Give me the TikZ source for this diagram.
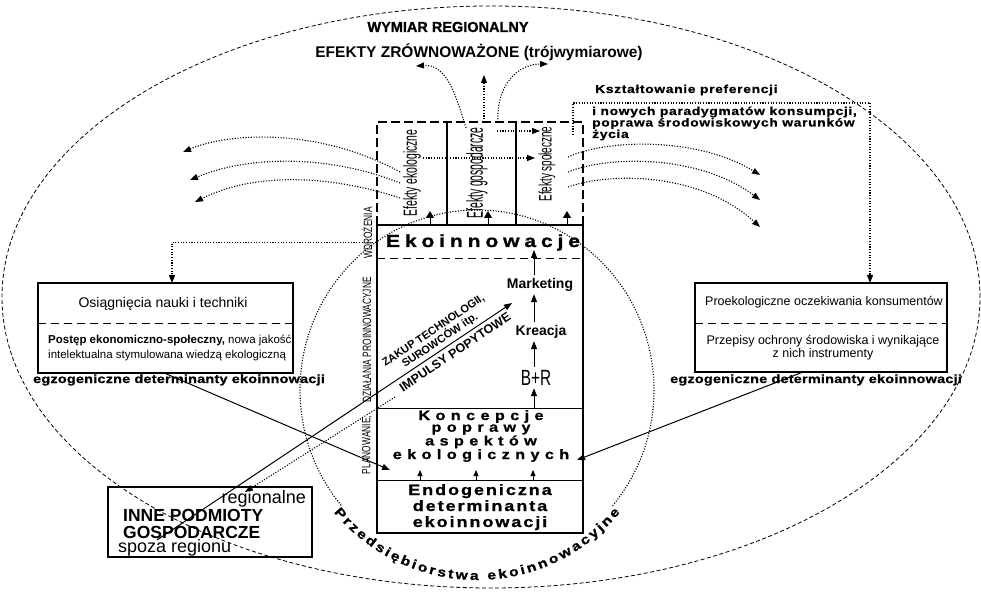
\documentclass[tikz,border=0pt]{standalone}
\usepackage{fontspec}
\setmainfont{Liberation Sans}
\newfontfamily\heavyfont[FakeStretch=1.2,FakeBold=1]{Liberation Sans Bold}
\newfontfamily\blackfont[FakeBold=1.2]{Liberation Sans Bold}
\newfontfamily\narrowfont[FakeStretch=0.7]{Liberation Sans}
\newfontfamily\condfont[FakeStretch=0.55]{Liberation Sans}
\newfontfamily\tallfont[FakeStretch=0.45]{Liberation Sans}
\usetikzlibrary{arrows.meta,calc,decorations.text}
\newcommand{\fs}[2]{\fontsize{#1}{#2}\selectfont}
\newcommand{\spaced}[1]{\addfontfeature{LetterSpace=#1}}
\newcommand{\ringfont}{\heavyfont\fs{13}{13}}

\begin{document}
\begin{tikzpicture}[x=1pt,y=-1pt,>={Triangle[length=8pt,width=6pt]},
    every node/.style={inner sep=0pt},
    stage/.style={inner sep=3pt},
    dotline/.style={line width=1.1pt,dash pattern=on 1.1pt off 1.6pt},
    thinbox/.style={draw,line width=1.1pt},
    heavy/.style={line width=1.8pt},
    arrowline/.style={line width=1pt,->}]
  \useasboundingbox (0,0) rectangle (981,593);

  % regional dimension and the enterprise ring
  \draw[line width=0.8pt,dash pattern=on 4pt off 2.5pt] (491,297) ellipse [x radius=489pt,y radius=291pt];
  \coordinate (ring) at (477,390);
  \draw[dotline] ($(ring)+(320:177pt and 180pt)$)
    arc[start angle=320,end angle=580,x radius=177pt,y radius=180pt];
  \path[decorate,decoration={text along path,text align=fit to path,raise=-10pt,
      text={|\ringfont|Przedsiębiorstwa ekoinnowacyjne}}]
    ($(ring)+(220:177pt and 180pt)$)
    arc[start angle=220,end angle=320,x radius=177pt,y radius=180pt];

  \node[anchor=base,font=\blackfont\fs{14.5}{15}] (region) at (448,32) {WYMIAR REGIONALNY};
  \node[anchor=base,font=\bfseries\fs{15.5}{16}] (sustain) at (479,58) {EFEKTY ZRÓWNOWAŻONE (trójwymiarowe)};

  % effects
  \draw[heavy,dash pattern=on 9pt off 4pt] (377,225) -- (377,122) -- (583,122) -- (583,225);
  \draw[heavy] (447,122) -- (447,225);
  \draw[heavy] (516,122) -- (516,225);
  \node[rotate=90,font=\condfont\fs{19}{19}] (effeco) at (412,173) {Efekty ekologiczne};
  \node[rotate=90,font=\tallfont\fs{23}{23}] (effeconomy) at (477,173) {Efekty gospodarcze};
  \node[rotate=90,font=\condfont\fs{18}{18}] (effsocial) at (547,164) {Efekty społeczne};

  % the enterprise
  \node[draw,heavy,minimum width=206,minimum height=308] (column) at (480,379) {};
  \draw[line width=1pt,dash pattern=on 8pt off 5pt] (377,259) -- (583,259);
  \draw[line width=0.8pt] (377,408) -- (583,408);
  \draw[line width=0.8pt] (377,480) -- (583,480);
  \node[anchor=base,font=\heavyfont\fs{17.5}{17.5}\spaced{28}] (eko) at (483,247) {Ekoinnowacje};
  \node[stage,anchor=base,font=\bfseries\fs{14}{14}] (market) at (540,288) {Marketing};
  \node[stage,anchor=base,font=\bfseries\fs{14}{14}] (create) at (541,335) {Kreacja};
  \node[stage,anchor=base,font=\narrowfont\fs{22}{22}] (rnd) at (536,385) {B+R};
  \node[anchor=base,align=center,font=\heavyfont\fs{13.5}{11.7}\spaced{40}] (concept) at (481,459)
    {Koncepcje\\poprawy\\aspektów\\ekologicznych};
  \node[anchor=base,align=center,font=\heavyfont\fs{15}{16}\spaced{13}] (endo) at (480,527)
    {Endogeniczna\\determinanta\\ekoinnowacji};
  \node[rotate=90,font=\narrowfont\fs{12}{12}] (plan) at (367,445) {PLANOWANIE,};
  \node[rotate=90,font=\narrowfont\fs{12}{12}] (actions) at (367,340) {DZIAŁANIA PROINNOWACYJNE};
  \node[rotate=90,font=\narrowfont\fs{12}{12}] (deploy) at (367,233) {WDROŻENIA};
  \node[rotate=34,align=center,font=\bfseries\fs{11}{12}] (purchase) at (437,336) {ZAKUP TECHNOLOGII,\\SUROWCÓW itp.};
  \node[rotate=34,font=\bfseries\fs{12.5}{13}] (impulse) at (455,352) {IMPULSY POPYTOWE};

  \coordinate (ekotip) at (534,250);
  \coordinate (rndin) at (534,408);
  \draw[arrowline] (market.north -| rndin) -- (ekotip);
  \draw[arrowline] (create.north -| rndin) -- (market.south -| rndin);
  \draw[arrowline] (rnd.north -| rndin) -- (create.south -| rndin);
  \draw[arrowline] (rndin) -- (rnd.south -| rndin);
  \foreach \x in {420,476,533}
    \draw[line width=1pt,-{Triangle[length=6pt,width=5pt]}] (\x,480) -- (\x,470);
  \foreach \x in {430,488,567}
    \draw[line width=1pt,-{Triangle[length=7pt,width=8pt]}] (\x,224) -- (\x,211);

  % exogenous determinants
  \node[thinbox,minimum width=255,minimum height=90] (science) at (165.5,328) {};
  \node[anchor=base,font=\fs{14}{14}] (sciencetitle) at (163,307) {Osiągnięcia nauki i techniki};
  \draw[line width=1pt,dash pattern=on 8pt off 5pt] (38,323) -- (293,323);
  \node[anchor=base west,align=left,font=\fs{11.5}{15}] (sciencetext) at (48,358)
    {\textbf{Postęp ekonomiczno-społeczny,} nowa jakość\\intelektualna stymulowana wiedzą ekologiczną};
  \node[anchor=base,font=\heavyfont\fs{12}{12}\spaced{2}] (exoleft) at (179,383) {egzogeniczne determinanty ekoinnowacji};

  \node[thinbox,minimum width=252,minimum height=89] (consumer) at (821,327.5) {};
  \node[anchor=base,font=\fs{12.5}{13}] (consumertitle) at (824,305) {Proekologiczne oczekiwania konsumentów};
  \draw[line width=1pt,dash pattern=on 8pt off 5pt] (695,323) -- (947,323);
  \node[anchor=base,align=center,font=\fs{12.5}{11.5}] (consumertext) at (823,357)
    {Przepisy ochrony środowiska i wynikające\\z nich instrumenty};
  \node[anchor=base,font=\heavyfont\fs{12}{12}\spaced{2}] (exoright) at (816,383) {egzogeniczne determinanty ekoinnowacji};

  \node[anchor=base west,font=\heavyfont\fs{11.5}{11.5}\spaced{6}] (shapingtitle) at (595,93) {Kształtowanie preferencji};
  \node[anchor=base west,align=left,font=\heavyfont\fs{11.5}{11.5}\spaced{6}] (shaping) at (592,138)
    {i nowych paradygmatów konsumpcji,\\poprawa środowiskowych warunków\\życia};

  % other firms
  \node[thinbox,minimum width=204,minimum height=70] (others) at (210,522) {};
  \node[anchor=base east,font=\fs{18}{18}] (othersreg) at (306,503) {regionalne};
  \node[anchor=base west,align=left,font=\bfseries\fs{17.5}{17}] (othersname) at (123,538) {INNE PODMIOTY\\GOSPODARCZE};
  \node[anchor=base west,font=\fs{18}{18}] (othersfar) at (118,552) {spoza regionu};

  % connectors
  \coordinate (sciencein) at (172,283);
  \draw[dotline,->] (column.west |- eko) -| (sciencein);
  \coordinate (socialout) at (573,135);
  \coordinate (consumerin) at (870,283);
  \draw[dotline,->] (socialout) -- ++(0,-32) -| (consumerin);

  \coordinate (buystart) at (157,540);
  \coordinate (buytip) at (512,303);
  \draw[arrowline] (buystart) -- (buytip);
  \coordinate (impulsestart) at (395,397);
  \coordinate (impulsetip) at (245,492);
  \draw[dotline,->] (impulsestart) -- (impulsetip);
  \coordinate (conceptleft) at (390,470);
  \coordinate (conceptright) at (577,460);
  \coordinate (consumerout) at (803,372);
  \draw[arrowline] (science.south) -- (conceptleft);
  \draw[arrowline] (consumerout) -- (conceptright);

  % effects spreading out
  \coordinate (ecoup) at (466,128);
  \coordinate (midup) at (484,122);
  \coordinate (socup) at (498,122);
  \coordinate (sustleft) at (416,66);
  \coordinate (sustmid) at (484,75);
  \coordinate (sustright) at (548,64);
  \draw[dotline,->] (ecoup) .. controls (455,92) and (446,64) .. (sustleft);
  \draw[dotline,->] (midup) -- (sustmid);
  \draw[dotline,->] (socup) .. controls (496,85) and (518,64) .. (sustright);

  \coordinate (gosA) at (497,131);
  \coordinate (spoA) at (540,131);
  \coordinate (ekoD) at (423,158);
  \coordinate (spoB) at (535,158);
  \draw[dotline,->] (gosA) -- (spoA);
  \draw[dotline,->] (ekoD) -- (spoB);

  \coordinate (ecoA) at (400,172);
  \coordinate (ecoB) at (400,183);
  \coordinate (ecoC) at (400,198);
  \coordinate (westA) at (183,152);
  \coordinate (westB) at (190,180);
  \coordinate (westC) at (195,202);
  \draw[dotline,->] (ecoA) .. controls (320,128) and (230,132) .. (westA);
  \draw[dotline,->] (ecoB) .. controls (330,155) and (250,155) .. (westB);
  \draw[dotline,->] (ecoC) .. controls (330,175) and (255,172) .. (westC);

  \coordinate (socA) at (568,157);
  \coordinate (socB) at (568,172);
  \coordinate (socC) at (568,187);
  \coordinate (eastA) at (760,175);
  \coordinate (eastB) at (760,200);
  \coordinate (eastC) at (760,227);
  \draw[dotline,->] (socA) .. controls (610,138) and (700,138) .. (eastA);
  \draw[dotline,->] (socB) .. controls (610,155) and (700,155) .. (eastB);
  \draw[dotline,->] (socC) .. controls (610,172) and (700,172) .. (eastC);
\end{tikzpicture}
\end{document}
